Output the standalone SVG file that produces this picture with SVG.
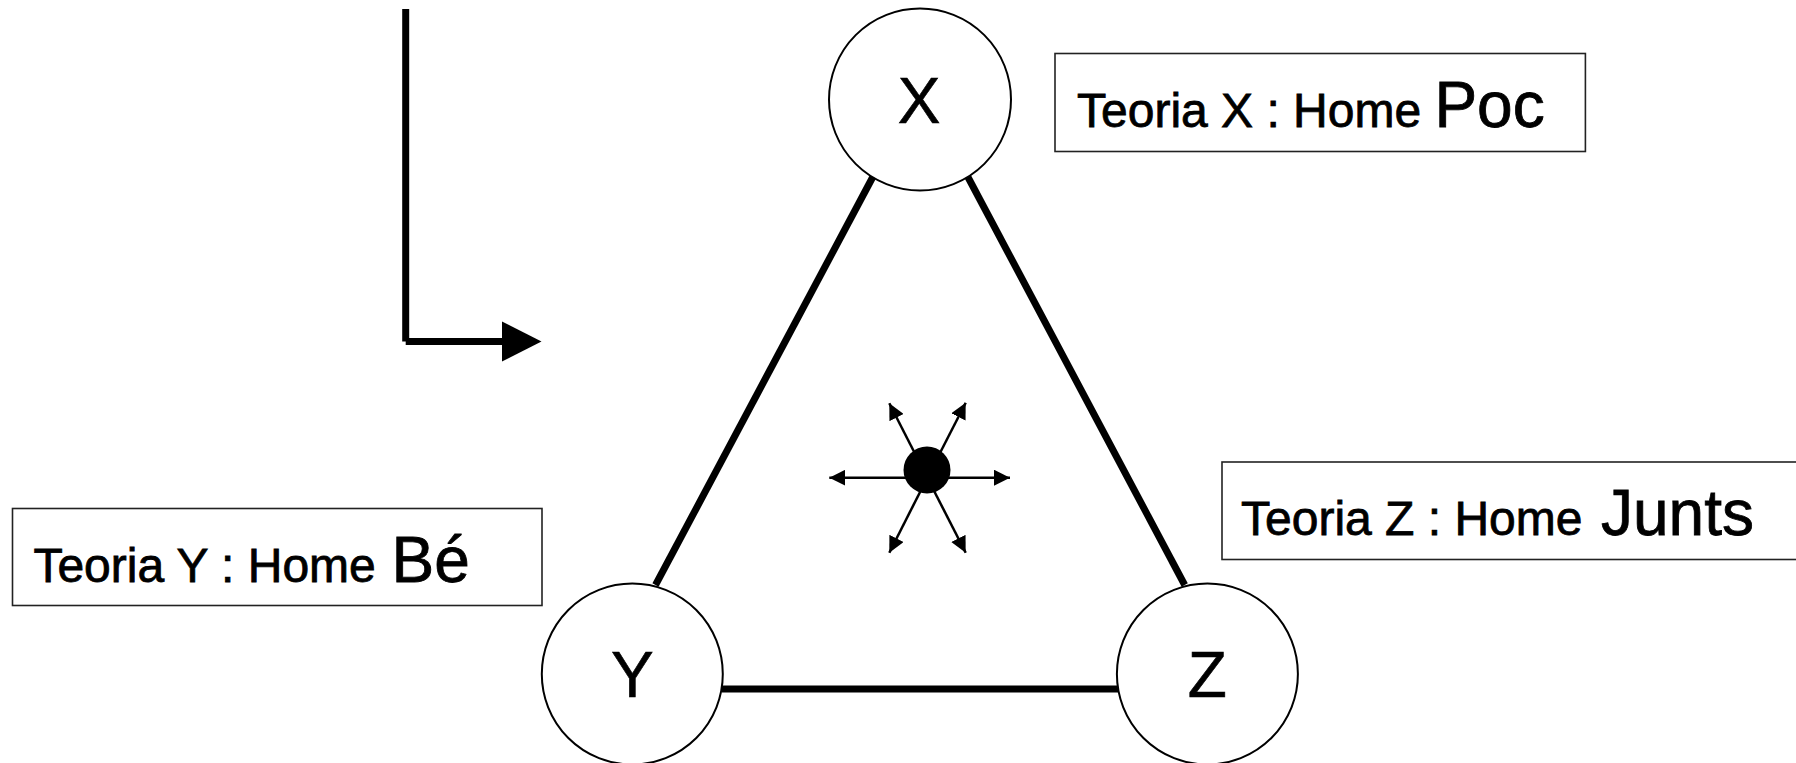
<svg xmlns="http://www.w3.org/2000/svg" width="1796" height="763" viewBox="0 0 1796 763">
<style>
.bg{fill:#ffffff}
.node{fill:#ffffff;stroke:#000;stroke-width:2}
.box{fill:#ffffff;stroke:#222;stroke-width:1.6}
.edge{stroke:#000;stroke-width:7;fill:none;stroke-linecap:butt}
.ray{stroke:#000;stroke-width:2.5;fill:none;marker-end:url(#ah)}
.lbl{font-family:"Liberation Sans",Arial,sans-serif;font-size:64px;fill:#000;stroke:#000;stroke-width:0.6;text-anchor:middle}
.t{font-family:"Liberation Sans",Arial,sans-serif;font-size:48px;fill:#000;stroke:#000;stroke-width:0.8}
.big{font-size:64px}
</style>
<defs>
<marker id="ah" markerUnits="userSpaceOnUse" markerWidth="16" markerHeight="16" refX="16" refY="8" orient="auto">
<path d="M0,0 L16,8 L0,16 z" fill="#000"/>
</marker>
</defs>
<rect class="bg" x="0" y="0" width="1796" height="763"/>
<g id="connectors">
<line class="edge" x1="872.8" y1="177" x2="655.5" y2="585"/>
<line class="edge" x1="967.9" y1="177" x2="1184.7" y2="585"/>
<line class="edge" x1="722" y1="689" x2="1118" y2="689"/>
<line class="edge" x1="405.7" y1="9" x2="405.7" y2="341.5"/>
<line class="edge" x1="405.7" y1="341.5" x2="504" y2="341.5"/>
<polygon points="502,321.5 541.5,341.5 502,361.5" fill="#000"/>
<line class="ray" x1="927.3" y1="477.7" x2="829.3" y2="477.7"/>
<line class="ray" x1="927.3" y1="477.7" x2="1010" y2="477.7"/>
<line class="ray" x1="927.3" y1="477.7" x2="889.3" y2="403.3"/>
<line class="ray" x1="927.3" y1="477.7" x2="965.7" y2="402.7"/>
<line class="ray" x1="927.3" y1="477.7" x2="889.3" y2="552.7"/>
<line class="ray" x1="927.3" y1="477.7" x2="965.7" y2="552.7"/>
</g>
<g id="center-dot">
<circle cx="927" cy="470" r="23.5" fill="#000"/>
</g>
<g id="node-x">
<circle class="node" cx="920" cy="99.5" r="91"/>
<text class="lbl" x="919" y="123">X</text>
</g>
<g id="node-y">
<circle class="node" cx="632.3" cy="674" r="90.5"/>
<text class="lbl" x="632.3" y="697">Y</text>
</g>
<g id="node-z">
<circle class="node" cx="1207.4" cy="674" r="90.5"/>
<text class="lbl" x="1207.4" y="697">Z</text>
</g>
<g id="box-x">
<rect class="box" x="1055" y="53.5" width="530.4" height="98"/>
<text class="t" x="1077" y="126.7">Teoria X : Home <tspan class="big" x="1434.4">Poc</tspan></text>
</g>
<g id="box-y">
<rect class="box" x="12.5" y="508.5" width="529.5" height="97"/>
<text class="t" x="33.4" y="581.7">Teoria Y : Home <tspan class="big" x="391.6">Bé</tspan></text>
</g>
<g id="box-z">
<rect class="box" x="1222" y="462" width="576" height="97.5"/>
<text class="t" x="1241" y="535">Teoria Z : Home <tspan class="big" x="1601">Junts</tspan></text>
</g>
</svg>
